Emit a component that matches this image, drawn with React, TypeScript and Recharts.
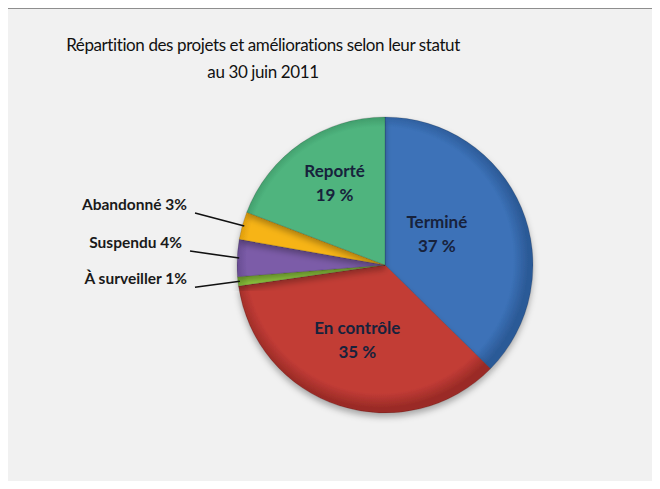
import { PieChart, Pie, Cell } from "recharts";

const statuses = ["Terminé", "En contrôle", "À surveiller", "Suspendu", "Abandonné", "Reporté"];
const shares = [37, 35, 1, 4, 3, 19];
const colors = ["#3c72b8", "#c23c36", "#8cc43c", "#7b5ca8", "#f7b416", "#4fb47e"];
const edgeColors = ["#2c5a97", "#9a2b26", "#6a9a2a", "#5d4386", "#d08f08", "#378f60"];

const data = statuses.map((name, i) => ({ name, value: shares[i] }));

const CX = 380;
const CY = 260;
const R = 148;
const RAD = Math.PI / 180;

// label placement tweaks (Excel "best fit" look)
const insideRadius: Record<string, number> = { Terminé: 0.38, "En contrôle": 0.6, Reporté: 0.6 };
const outsideNudge: Record<string, [number, number]> = {
  "À surveiller": [0, 3],
  Suspendu: [-5, -10],
  Abandonné: [0, -16],
};

function renderLabel(props: any) {
  const { cx, cy, midAngle, outerRadius, name, value } = props;
  const cos = Math.cos(-midAngle * RAD);
  const sin = Math.sin(-midAngle * RAD);
  if (value >= 10) {
    const r = outerRadius * (insideRadius[name] ?? 0.6);
    const x = cx + r * cos;
    const y = cy + r * sin;
    return (
      <text
        x={x}
        y={y}
        textAnchor="middle"
        fill="#17223c"
        style={{ fontFamily: "Lato", fontWeight: 700, fontSize: 17 }}
      >
        <tspan x={x} dy={-15}>{name}</tspan>
        <tspan x={x} dy={24}>{`${value} %`}</tspan>
      </text>
    );
  }
  const [nx, ny] = outsideNudge[name] ?? [0, 0];
  const ex = cx + (outerRadius - 2) * cos;
  const ey = cy + (outerRadius - 2) * sin;
  const ty = ey + ny;
  const tx = cx - outerRadius - 42 + nx;
  return (
    <g>
      <path d={`M${tx},${ty + 3} L${ex},${ey}`} stroke="#111" strokeWidth={1.6} fill="none" />
      <text
        x={tx - 8}
        y={ty}
        textAnchor="end"
        fill="#1a1a1a"
        style={{ fontFamily: "Lato", fontWeight: 700, fontSize: 15.5 }}
      >
        {`${name} ${value}%`}
      </text>
    </g>
  );
}

export default function App() {
  return (
    <div style={{ position: "relative", margin: -8, width: 660, height: 489, background: "#fff", overflow: "hidden" }}>
      <div
        style={{
          position: "absolute",
          left: 5,
          top: 7,
          width: 700,
          height: 520,
          border: "2px solid #8e8e8e",
          background: "#f1f1f1",
        }}
      />
      <div
        style={{
          position: "absolute",
          left: 0,
          top: 31,
          width: 526,
          textAlign: "center",
          fontFamily: "Lato",
          fontSize: 17,
          letterSpacing: -0.4,
          lineHeight: "27px",
          color: "#111",
        }}
      >
        Répartition des projets et améliorations selon leur statut
        <br />
        au 30 juin 2011
      </div>
      <div style={{ position: "absolute", left: 0, top: 0 }}>
        <PieChart width={660} height={489}>
          <defs>
            <filter id="shadow" x="-20%" y="-20%" width="140%" height="140%">
              <feDropShadow dx="0" dy="4" stdDeviation="3" floodColor="#000" floodOpacity="0.3" />
            </filter>
            {colors.map((c, i) => (
              <radialGradient
                key={i}
                id={`g${i}`}
                gradientUnits="userSpaceOnUse"
                cx={CX}
                cy={CY}
                r={R}
              >
                <stop offset="0%" stopColor={c} />
                <stop offset="90%" stopColor={c} />
                <stop offset="100%" stopColor={edgeColors[i]} />
              </radialGradient>
            ))}
          </defs>
          <Pie
            data={data}
            dataKey="value"
            nameKey="name"
            cx={CX}
            cy={CY}
            outerRadius={R}
            startAngle={90}
            endAngle={-270}
            stroke="rgba(0,0,0,0.25)"
            strokeWidth={0.6}
            label={renderLabel}
            labelLine={false}
            isAnimationActive={false}
            style={{ filter: "url(#shadow)" }}
          >
            {data.map((d, i) => (
              <Cell key={d.name} fill={`url(#g${i})`} />
            ))}
          </Pie>
        </PieChart>
      </div>
    </div>
  );
}
